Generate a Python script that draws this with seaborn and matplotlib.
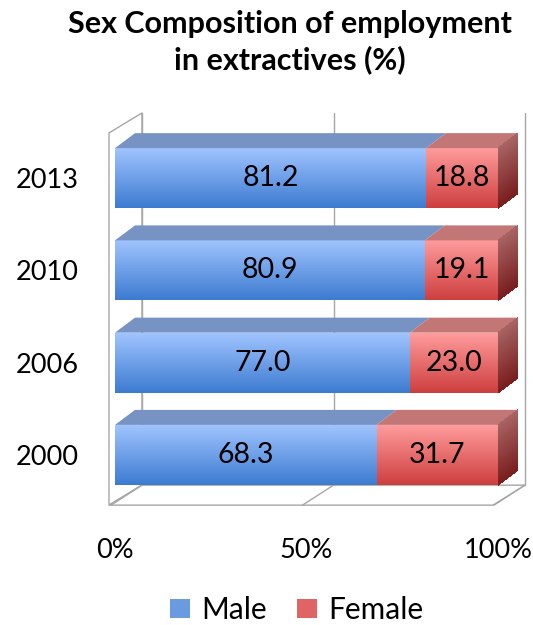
import numpy as np
import matplotlib
matplotlib.use("Agg")
import matplotlib.pyplot as plt
import seaborn as sns
import pandas as pd
from matplotlib.patches import Polygon, Patch
from matplotlib.transforms import IdentityTransform
from matplotlib.colors import LinearSegmentedColormap

# ---- data ----
years = ["2013", "2010", "2006", "2000"]
male = [81.2, 80.9, 77.0, 68.3]
female = [18.8, 19.1, 23.0, 31.7]
x_ticks = [0, 50, 100]
x_tick_labels = ["0%", "50%", "100%"]
series_names = ["Male", "Female"]
title = "Sex Composition of employment\nin extractives (%)"

sns.set_theme(style="white")
plt.rcParams['font.family'] = ['Lato', 'DejaVu Sans']
plt.rcParams['text.color'] = 'black'

W, H = 533, 625
fig = plt.figure(figsize=(W / 100, H / 100), dpi=100)
ax = fig.add_axes([115 / W, 1 - 501 / H, (498 - 115) / W, (501 - 132) / H])

df = pd.DataFrame({"year": years, "male": male, "female": female})
df["total"] = df["male"] + df["female"]
BW = 0.65
sns.barplot(data=df, y="year", x="total", order=years, orient="h",
            color="#D85050", width=BW, ax=ax, saturation=1, zorder=3)
sns.barplot(data=df, y="year", x="male", order=years, orient="h",
            color="#6A9BE0", width=BW, ax=ax, saturation=1, zorder=3)
ax.set_xlim(0, 100)
ax.set_ylim(3.5, -0.5)
ax.set_autoscale_on(False)
for s in ax.spines.values():
    s.set_visible(False)
ax.grid(False)
ax.set_xlabel("")
ax.set_ylabel("")
ax.set_xticks(x_ticks)
ax.set_xticklabels(x_tick_labels)
ax.tick_params(axis="x", length=0, pad=27, labelsize=19.5, labelcolor="black")
ax.tick_params(axis="y", length=0, pad=26, labelsize=19.5, labelcolor="black")

idt = IdentityTransform()
T = ax.transData


def disp(x, y):
    return T.transform((x, y))


# ---- walls / floor (pseudo 3D frame) ----
wall_col = "#A6A6A6"
y_floor = 3.545
y_top = -0.49
wdx, wdy = 33, 20
# left wall
f0b = disp(0, y_floor) + np.array([-6, 0])
f0t = disp(0, y_top) + np.array([-6, 0])
left_wall = Polygon([f0b, f0t, f0t + [wdx, wdy], f0b + [wdx, wdy]], closed=True,
                    facecolor="white", edgecolor=wall_col, lw=1.0,
                    transform=idt, zorder=1, clip_on=False)
ax.add_patch(left_wall)
# floor
fl_front_l = disp(0, y_floor) + np.array([-6, 0])
fl_front_r = disp(100, y_floor) + np.array([-5, 0])
fl_back_l = fl_front_l + [wdx, wdy]
fl_back_r = disp(100, y_floor) + np.array([27, wdy])
floor = Polygon([fl_front_l, fl_front_r, fl_back_r, fl_back_l], closed=True,
                facecolor="white", edgecolor=wall_col, lw=1.0,
                transform=idt, zorder=1, clip_on=False)
ax.add_patch(floor)
# back gridlines + floor diagonals
top_back_y = f0t[1] + wdy
for xv in x_ticks:
    fb = disp(xv, y_floor)
    back_x = fb[0] + 27
    ax.plot([back_x, back_x], [fb[1] + wdy, top_back_y], color=wall_col, lw=1.0,
            transform=idt, zorder=1, clip_on=False)
    ax.plot([fb[0] - 4, back_x], [fb[1], fb[1] + wdy], color=wall_col, lw=1.0,
            transform=idt, zorder=1, clip_on=False)

# ---- gradient bars with 3D faces ----
male_cmap = LinearSegmentedColormap.from_list("m", ["#A0C4FF", "#3C7BD0"])
fem_cmap = LinearSegmentedColormap.from_list("f", ["#FF9C9C", "#CE3E3E"])
side_cmap = LinearSegmentedColormap.from_list("s", ["#A86464", "#7A1E1E"])
grad = np.linspace(0, 1, 256).reshape(-1, 1)
ddx, ddy = 20, 15

rects = [p for p in ax.patches if isinstance(p, matplotlib.patches.Rectangle)]
n = len(years)
total_bars = rects[:n]
male_bars = rects[n:2 * n]

for i in range(n):
    tb, mb = total_bars[i], male_bars[i]
    tb.set_alpha(0)
    mb.set_alpha(0)
    y0 = mb.get_y()
    h = mb.get_height()
    xm = mb.get_width()
    xt = tb.get_width()
    ytop_d, ybot_d = y0, y0 + h
    # front faces with vertical gradients
    ax.imshow(grad, extent=(0, xm, ybot_d, ytop_d), origin="upper", aspect="auto",
              cmap=male_cmap, zorder=4, interpolation="bilinear")
    ax.imshow(grad, extent=(xm, xt, ybot_d, ytop_d), origin="upper", aspect="auto",
              cmap=fem_cmap, zorder=4, interpolation="bilinear")
    # top faces
    a, b, c = disp(0, ytop_d), disp(xm, ytop_d), disp(xt, ytop_d)
    off = np.array([ddx, ddy])
    ax.add_patch(Polygon([a, b, b + off, a + off], closed=True, facecolor="#7693C3",
                         edgecolor="none", transform=idt, zorder=4, clip_on=False))
    ax.add_patch(Polygon([b, c, c + off, b + off], closed=True, facecolor="#C27676",
                         edgecolor="none", transform=idt, zorder=4, clip_on=False))
    # right side face drawn as thin strips for a vertical gradient
    cb = disp(xt, ybot_d)
    nstrip = 30
    for k in range(nstrip):
        t0, t1 = k / nstrip, (k + 1) / nstrip
        p_top = c + (cb - c) * t0
        p_bot = c + (cb - c) * t1
        ax.add_patch(Polygon([p_top, p_bot + [0, -0.3], p_bot + off + [0, -0.3], p_top + off],
                             closed=True, facecolor=side_cmap((t0 + t1) / 2),
                             edgecolor="none", transform=idt, zorder=4,
                             clip_on=False, antialiased=False))
    # value labels
    ax.text(xm / 2, y0 + h / 2, f"{male[i]:.1f}", ha="center", va="center",
            fontsize=20.5, color="black", zorder=6)
    ax.text(xm + (xt - xm) / 2, y0 + h / 2, f"{female[i]:.1f}", ha="center",
            va="center", fontsize=20.5, color="black", zorder=6)

ax.set_xlim(0, 100)
ax.set_ylim(3.5, -0.5)

fig.text(290 / W, 1 - 42 / H, title, ha="center", va="center", fontsize=22,
         fontweight="bold", linespacing=1.3, color="black")

handles = [Patch(facecolor="#6A9BE0", edgecolor="none"),
           Patch(facecolor="#E06464", edgecolor="none")]
leg = fig.legend(handles, series_names, loc="center", bbox_to_anchor=(297 / W, 1 - 610 / H),
                 ncol=2, frameon=False, fontsize=21.5, handlelength=0.65, handleheight=0.65,
                 handletextpad=0.4, columnspacing=1.0)
for t in leg.get_texts():
    t.set_color("black")

fig.savefig("out.png", dpi=100)
